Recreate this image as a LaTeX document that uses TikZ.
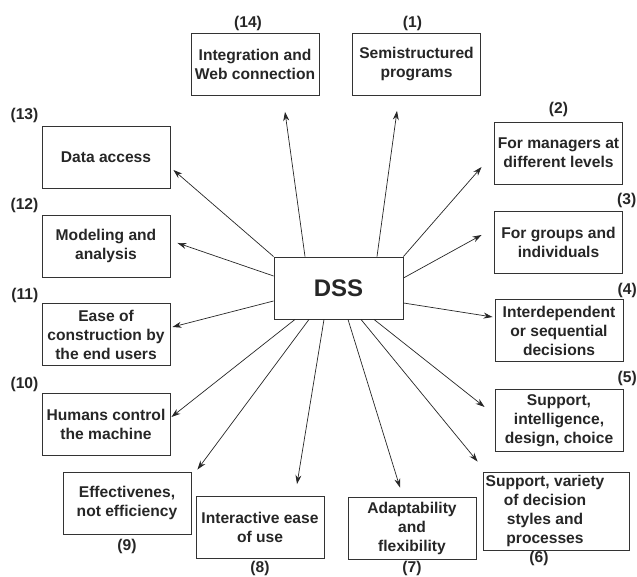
\documentclass[tikz,border=0pt]{standalone}
\usepackage{fontspec}
\setmainfont{Liberation Sans}
\usetikzlibrary{positioning,arrows.meta}

\begin{document}
\begin{tikzpicture}[x=1pt,y=1pt,
                    font=\bfseries\fontsize{15.6}{19}\selectfont,
                    box/.style={draw=black!80, line width=0.9pt, minimum width=128pt, minimum height=62pt, inner sep=0pt, align=center, text=black!85},
                    num/.style={inner sep=0pt, text=black!85},
                    arr/.style={draw=black!85, line width=0.7pt, -{Stealth[length=9pt,width=6pt]}}]
                    \useasboundingbox (0,0) rectangle (637,577);
                    \node (dss) [box, minimum width=129pt, font=\bfseries\fontsize{24}{28}\selectfont] at (338.5,289) {DSS};
                    \node (b1) [box] at (416.5,512.5) {Semistructured\\programs};
                    \node (b2) [box] at (558.5,424) {For managers at\\different levels};
                    \node (b3) [box] at (558.5,335) {For groups and\\individuals};
                    \node (b4) [box] at (559,246.5) {Interdependent\\or sequential\\decisions};
                    \node (b5) [box] at (559,156.5) {Support,\\intelligence,\\design, choice};
                    \node (b6) [box, minimum width=146pt, minimum height=78pt] at (556,66) {\begin{tabular}{@{}c@{}}Support, variety\\of decision\\styles and\\processes\end{tabular}\hspace{22pt}};
                    \node (b7) [box] at (412,49) {Adaptability\\and\\flexibility};
                    \node (b8) [box] at (260,49.5) {Interactive ease\\of use};
                    \node (b9) [box] at (127,74) {Effectivenes,\\not efficiency};
                    \node (b10) [box] at (106,153) {Humans control\\the machine};
                    \node (b11) [box] at (106,242.5) {Ease of\\construction by\\the end users};
                    \node (b12) [box] at (106,331) {Modeling and\\analysis};
                    \node (b13) [box] at (106,420) {Data access};
                    \node (b14) [box] at (255,512.5) {Integration and\\Web connection};
                    \node (n1) [num, above=2pt of b1, xshift=-4pt] {(1)};
                    \node (n2) [num, above=5pt of b2] {(2)};
                    \node (n3) [num, above right=3pt and -6pt of b3.north east] {(3)};
                    \node (n4) [num, above right=1pt and -6pt of b4.north east] {(4)};
                    \node (n5) [num, above right=3pt and -6pt of b5.north east] {(5)};
                    \node (n6) [num, below=1pt of b6, xshift=-17pt] {(6)};
                    \node (n7) [num, below=2pt of b7] {(7)};
                    \node (n8) [num, below=2pt of b8] {(8)};
                    \node (n9) [num, below=5pt of b9] {(9)};
                    \node (n10) [num, above left=1pt and 3pt of b10.north west] {(10)};
                    \node (n11) [num, above left=0pt and 3pt of b11.north west] {(11)};
                    \node (n12) [num, above left=1.5pt and 3pt of b12.north west] {(12)};
                    \node (n13) [num, above left=2.5pt and 3pt of b13.north west] {(13)};
                    \node (n14) [num, above=2pt of b14, xshift=-7pt] {(14)};
                    \draw [arr] ([xshift=38.5pt]dss.north) -- ([shift={(-19.5,-15)}]b1.south);
                    \draw [arr] (dss.north east) -- ([shift={(-12.5,-14)}]b2.west);
                    \draw [arr] ([yshift=10pt]dss.east) -- ([shift={(-12.5,7)}]b3.west);
                    \draw [arr] ([yshift=-15pt]dss.east) -- ([shift={(-2,13.5)}]b4.west);
                    \draw [arr] ([xshift=35.5pt]dss.south) -- ([shift={(-10,13.5)}]b5.west);
                    \draw [arr] ([xshift=22.5pt]dss.south) -- ([shift={(-5,10)}]b6.north west);
                    \draw [arr] ([xshift=9.5pt]dss.south) -- ([shift={(-12,9)}]b7.north);
                    \draw [arr] ([xshift=-14.5pt]dss.south) -- ([shift={(37,12)}]b8.north);
                    \draw [arr] ([xshift=-29.5pt]dss.south) -- ([shift={(6,2)}]b9.north east);
                    \draw [arr] ([xshift=-43.5pt]dss.south) -- ([shift={(1,7)}]b10.east);
                    \draw [arr] ([yshift=-13pt]dss.west) -- ([shift={(2,7.5)}]b11.east);
                    \draw [arr] ([yshift=12pt]dss.west) -- ([shift={(7,3)}]b12.east);
                    \draw [arr] (dss.north west) -- ([shift={(3,-13)}]b13.east);
                    \draw [arr] ([xshift=-33.5pt]dss.north) -- ([shift={(30,-16)}]b14.south);
\end{tikzpicture}
\end{document}
